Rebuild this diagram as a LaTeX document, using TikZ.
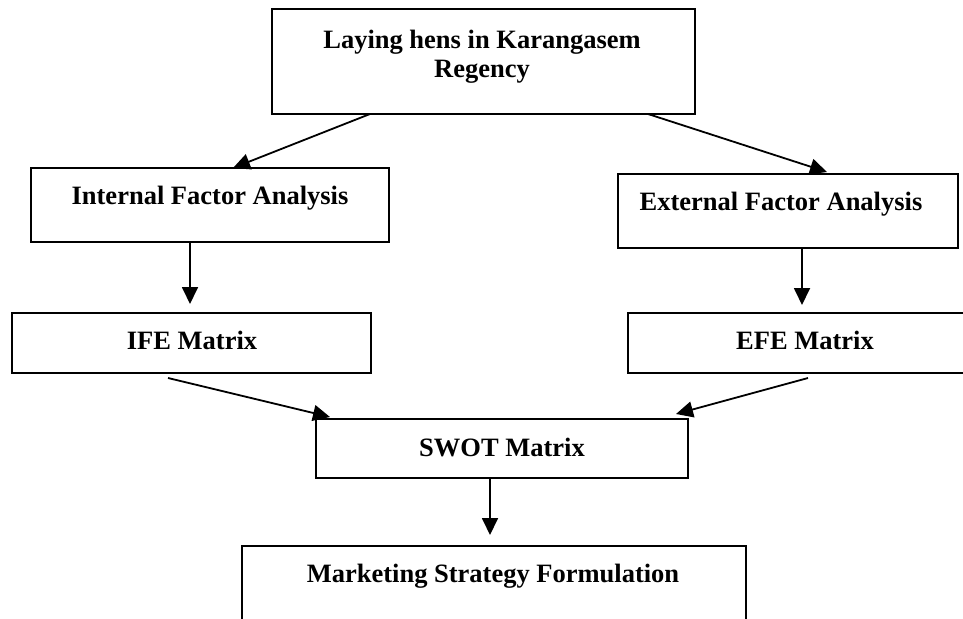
\documentclass[tikz,border=0pt]{standalone}
\usepackage{fontspec}
\setmainfont{Liberation Serif}
\usetikzlibrary{arrows.meta}
\begin{document}
\begin{tikzpicture}[x=1pt,y=-1pt,
  box/.style={draw, line width=1.8pt, inner sep=0pt, outer sep=0pt},
  lbl/.style={font=\fontsize{26.5}{29}\selectfont\bfseries, inner sep=0pt},
  conn/.style={line width=1.8pt, -{Triangle[length=17pt,width=16pt]}}]
\useasboundingbox (0,0) rectangle (963,618);
\clip (0,0) rectangle (963,618);
% boxes
\node[box, minimum width=423pt, minimum height=105pt] (top)  at (483.5,61.5) {};
\node[box, minimum width=358pt, minimum height=74pt]  (int)  at (210,205) {};
\node[box, minimum width=340pt, minimum height=74pt]  (ext)  at (788,211) {};
\node[box, minimum width=359pt, minimum height=60pt]  (ife)  at (191.5,343) {};
\node[box, minimum width=348pt, minimum height=60pt]  (efe)  at (802,343) {};
\node[box, minimum width=372pt, minimum height=59pt]  (swot) at (502,448.5) {};
\node[box, minimum width=504pt, minimum height=96pt]  (mkt)  at (494,594) {};
% texts
\node[lbl, align=center, anchor=north] (topT) at (482,30) {Laying hens in Karangasem\\Regency};
\node[lbl, anchor=base] (intT)  at (210,204) {Internal Factor Analysis};
\node[lbl, anchor=base] (extT)  at (781,210) {External Factor Analysis};
\node[lbl, anchor=base] (ifeT)  at (192,349) {IFE Matrix};
\node[lbl, anchor=base] (efeT)  at (805,349) {EFE Matrix};
\node[lbl, anchor=base] (swotT) at (502,456) {SWOT Matrix};
\node[lbl, anchor=base] (mktT)  at (493,582) {Marketing Strategy Formulation};
% connectors
\draw[conn] ([xshift=-113.5pt]top.south) -- ([xshift=23pt]int.north);
\draw[conn] ([xshift=164.5pt]top.south) -- ([xshift=39pt,yshift=2pt]ext.north);
\draw[conn] ([xshift=-20pt]int.south) -- ([xshift=-1.5pt,yshift=9pt]ife.north);
\draw[conn] ([xshift=14pt]ext.south) -- ([yshift=8pt]efe.north);
\draw[conn] ([xshift=-23.5pt,yshift=-5pt]ife.south) -- ([xshift=14pt,yshift=2pt]swot.north west);
\draw[conn] ([xshift=6pt,yshift=-5pt]efe.south) -- ([xshift=-12pt,yshift=5pt]swot.north east);
\draw[conn] ([xshift=-12pt]swot.south) -- ([xshift=-4pt,yshift=11pt]mkt.north);
\end{tikzpicture}
\end{document}
